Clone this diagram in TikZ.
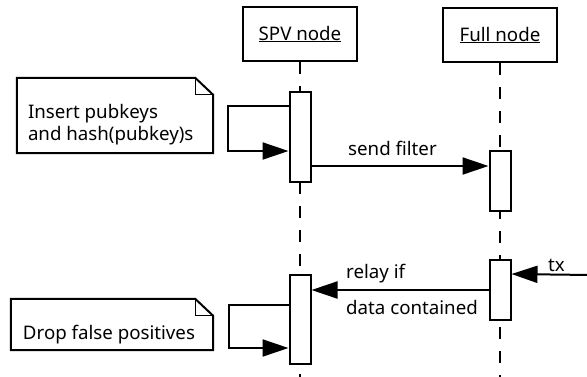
\documentclass[tikz,border=0pt]{standalone}
\usepackage{fontspec}
\setmainfont{Noto Sans}
\usetikzlibrary{arrows.meta,calc}
\tikzstyle{head}=[draw,line width=2pt,minimum width=114pt,minimum height=54pt,inner sep=0pt,font=\fontsize{18.7}{22.3}\selectfont]
\tikzstyle{activation}=[draw,fill=white,line width=2pt,minimum width=21pt,inner sep=0pt]
\tikzstyle{lifeline}=[draw,line width=1.3pt,dash pattern=on 12pt off 12pt]
\tikzstyle{message}=[draw,line width=2pt,-{Triangle[length=26pt,width=17pt]}]
\tikzstyle{msgtext}=[font=\fontsize{18.7}{22.3}\selectfont,inner sep=0pt,anchor=base west]
\tikzstyle{notebox}=[inner sep=0pt]
\tikzstyle{notetext}=[font=\fontsize{18.7}{22.3}\selectfont,inner sep=0pt,anchor=north west,align=left]
\tikzstyle{fold}=[draw,line width=2pt]

\begin{document}
\begin{tikzpicture}[x=1pt,y=-1pt]
    \useasboundingbox (0,0) rectangle (587,376);

    \foreach \pos/\name/\txt in {{(300,34)/spv/SPV node},{(500,35)/full/Full node}}
        \node[head] (\name) at \pos {\underline{\txt}};

    % lifelines down to the bottom edge
    \coordinate (bottom) at (0,380);
    \foreach \name in {spv,full}
        \path[lifeline] (\name.south) -- (\name.south |- bottom);

    \foreach \pos/\name/\h in {{(300,137)/a1/90},{(500,181)/b1/60},{(500,290)/b2/60},{(300,319.5)/a2/89}}
        \node[activation,minimum height=\h pt] (\name) at \pos {};

    % notes with folded corner
    \node[notebox,minimum width=196pt,minimum height=75pt] (n1) at (115,115.5) {};
    \node[notebox,minimum width=202pt,minimum height=51pt] (n2) at (112,324.5) {};
    \foreach \name in {n1,n2} {
        \path[fold] (\name.south west) -- (\name.north west) -- ([xshift=-18pt]\name.north east)
            -- ([yshift=-17pt]\name.north east) -- (\name.south east) -- cycle;
        \draw[line width=0.8pt] ([xshift=-18pt]\name.north east) |- ([yshift=-17pt]\name.north east);
    }
    \node[notetext] (t1) at ([shift={(11,25.8)}]n1.north west) {Insert pubkeys\\and hash(pubkey)s};
    \node[notetext] (t2) at ([shift={(12,25.8)}]n2.north west) {Drop false positives};

    % self calls
    \path[message] ([yshift=-15pt]a1.north west) -- ++(-61,0) |- ([yshift=-60pt]a1.north west);
    \path[message] ([yshift=-31pt]a2.north west) -- ++(-60,0) |- ([yshift=-74pt]a2.north west);

    % messages
    \coordinate (sf) at ([yshift=-16pt]b1.north west);
    \path[message] (a1.east |- sf) -- (sf);
    \node[msgtext] (sftxt) at (348,155) {send filter};

    \coordinate (txend) at ([yshift=-15pt]b2.north east);
    \coordinate (txsrc) at (590,275);
    \path[message] (txsrc) -- (txend);
    \node[msgtext] (txtxt) at (548,271) {tx};

    \coordinate (rl) at ([yshift=-16pt]a2.north east);
    \path[message] (b2.west |- rl) -- (rl);
    \node[notetext] (rltxt) at (346,263.8) {relay if\\[13.7pt]data contained};
\end{tikzpicture}
\end{document}
